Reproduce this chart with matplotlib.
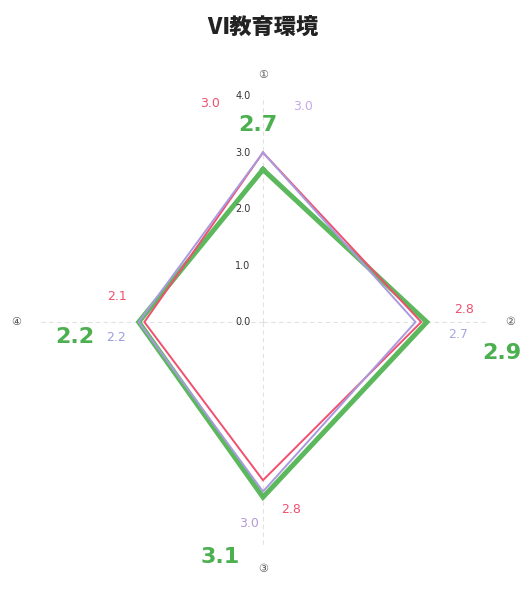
import numpy as np
import matplotlib
matplotlib.use('Agg')
import matplotlib.pyplot as plt

plt.rcParams['font.family'] = ['DejaVu Sans', 'Noto Sans CJK JP']

# chart data
axis_labels = ['①', '②', '③', '④']
red_vals = [3.0, 2.8, 2.8, 2.1]
purple_vals = [3.0, 2.7, 3.0, 2.2]
green_vals = [2.7, 2.9, 3.1, 2.2]
r_ticks = [0.0, 1.0, 2.0, 3.0, 4.0]

angles = np.linspace(0, 2 * np.pi, len(axis_labels), endpoint=False)

fig = plt.figure(figsize=(5.24, 6.14), dpi=100)
ax = fig.add_axes([0.0706, 0.1075, 0.8626, 0.736], projection='polar')
ax.set_theta_offset(np.pi / 2)
ax.set_theta_direction(-1)
ax.set_ylim(0, 4.0)
ax.spines['polar'].set_visible(False)
ax.set_xticks(angles)
ax.set_xticklabels([])
ax.set_yticks(r_ticks)
ax.set_yticklabels([])
ax.yaxis.grid(False)
ax.xaxis.grid(True, color='#e2e2e2', linestyle=(0, (4, 3)), linewidth=0.8)


def closed(v):
    return list(v) + [v[0]]


th = closed(list(angles))
ax.plot(th, closed(green_vals), color='#5cb85c', linewidth=3.6, solid_joinstyle='miter', zorder=2)
ax.plot(th, closed(red_vals), color='#f0506e', linewidth=1.4, solid_joinstyle='miter', zorder=3)
ax.plot(th, closed(purple_vals), color='#a99ae0', linewidth=1.4, solid_joinstyle='miter', zorder=4)

# radial tick labels along the top spoke
for r in r_ticks:
    ax.annotate('%.1f' % r, xy=(0, r), xytext=(-20, 0), textcoords='offset pixels',
                ha='center', va='center', fontsize=7, color='#333333')

# axis names
for a, name in zip(angles, axis_labels):
    ax.text(a, 4.37, name, ha='center', va='center', fontsize=8, color='#555555',
            family=['DejaVu Sans', 'Noto Sans CJK JP'])

# value labels (pixel offsets from each vertex)
red_off = [(-53, 49), (43, 13), (28, -29), (-27, 26)]
purple_off = [(40, 46), (43, -12), (-14, -32), (-23, -15)]
green_off = [(-5, 45), (75, -31), (-43, -60), (-64, -15)]
purple_cols = ['#c8a8e8', '#a8a8e0', '#b898d8', '#9c9ce0']

for i, a in enumerate(angles):
    ax.annotate('%.1f' % red_vals[i], xy=(a, red_vals[i]), xytext=red_off[i],
                textcoords='offset pixels', ha='center', va='center',
                fontsize=9, color='#f0506e')
    ax.annotate('%.1f' % purple_vals[i], xy=(a, purple_vals[i]), xytext=purple_off[i],
                textcoords='offset pixels', ha='center', va='center',
                fontsize=9, color=purple_cols[i])
    ax.annotate('%.1f' % green_vals[i], xy=(a, green_vals[i]), xytext=green_off[i],
                textcoords='offset pixels', ha='center', va='center',
                fontsize=16, fontweight='semibold', color='#4caf50')

fig.text(0.502, 0.955, 'Ⅵ教育環境', ha='center', va='center', fontsize=16,
         fontweight='heavy', color='#222222', family=['Noto Sans CJK JP', 'DejaVu Sans'])

fig.savefig('out.png', dpi=100, facecolor='white')
